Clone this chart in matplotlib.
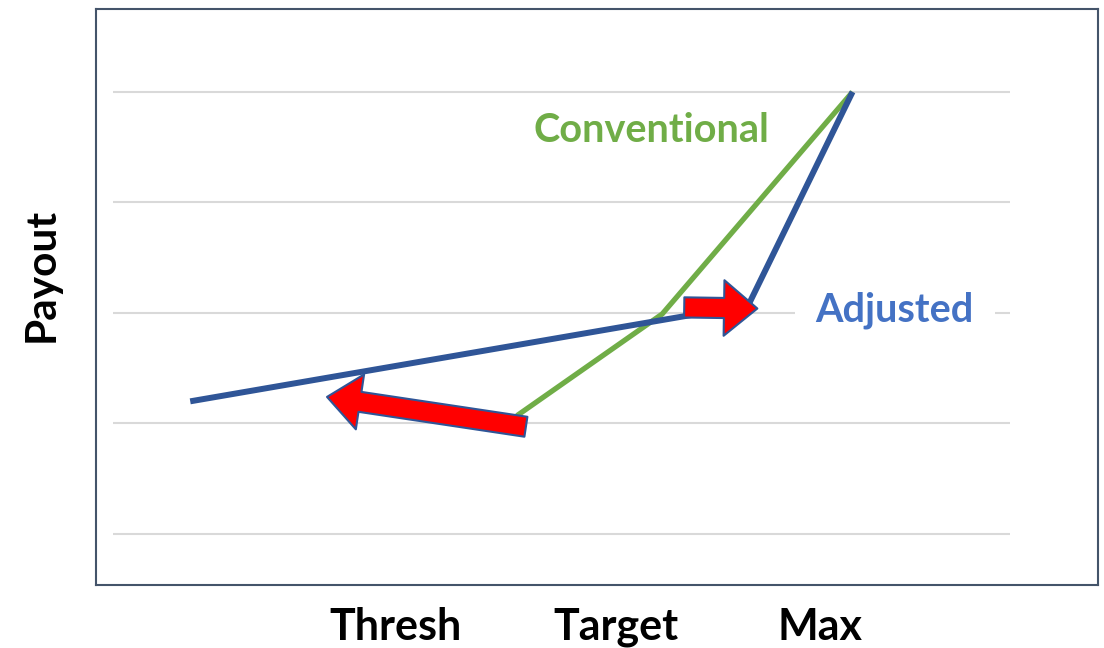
import matplotlib
matplotlib.use("Agg")
import matplotlib.pyplot as plt

# performance axis runs 0..100, payout levels sit on gridlines 1..5
grid_levels = [1, 2, 3, 4, 5]
tick_positions = [29.9, 51.9, 72.3]
tick_labels = ["Thresh", "Target", "Max"]

conventional_x = [42.0, 56.5, 75.5]
conventional_y = [2.07, 2.99, 5.0]

adjusted_x = [9.4, 65.1, 75.5]
adjusted_y = [2.20, 3.07, 5.0]

# shift arrows: (from_x, from_y, to_x, to_y)
shift_arrows = [
    (42.9, 1.97, 23.05, 2.24),
    (58.7, 3.05, 66.0, 3.04),
]

GREEN = "#70AD47"
BLUE = "#2F5597"
LABEL_BLUE = "#4472C4"
FRAME = "#44546A"

plt.rcParams["font.family"] = ["Lato", "DejaVu Sans"]

fig = plt.figure(figsize=(11.04, 6.48), dpi=100)
ax = fig.add_axes([0.087, 0.0972, 0.9076, 0.8889])
ax.set_xlim(0, 100)
ax.set_ylim(0.538, 5.75)

ax.hlines(grid_levels, 1.7, 91.2, color="#D9D9D9", linewidth=1.5, zorder=1)

ax.plot(conventional_x, conventional_y, color=GREEN, linewidth=3.8,
        solid_capstyle="butt", zorder=3)
ax.plot(adjusted_x, adjusted_y, color=BLUE, linewidth=4.3,
        solid_capstyle="butt", zorder=3)

for x0, y0, x1, y1 in shift_arrows:
    ax.annotate("", xy=(x1, y1), xytext=(x0, y0),
                arrowprops=dict(arrowstyle="simple,head_length=24,head_width=40,tail_width=14.5",
                                mutation_scale=1, shrinkA=0, shrinkB=0,
                                facecolor="#FF0000", edgecolor=BLUE, linewidth=1.5),
                zorder=4)

ax.text(55.4, 4.65, "Conventional", color=GREEN, fontsize=28.5, fontweight="bold",
        ha="center", va="center", zorder=5)
# white box breaks the gridline behind the label
ax.text(79.7, 3.02, "Adjusted", color=LABEL_BLUE, fontsize=28.5, fontweight="bold",
        ha="center", va="center", zorder=5,
        bbox=dict(facecolor="white", edgecolor="none", pad=15))

ax.set_xticks(tick_positions)
ax.set_xticklabels(tick_labels, fontsize=31, fontweight="bold")
ax.tick_params(axis="x", length=0, pad=16)
ax.set_yticks([])

fig.text(42 / 1104, 1 - 275 / 648, "Payout", fontsize=30.5, fontweight="bold",
         rotation=90, ha="center", va="center")

for spine in ax.spines.values():
    spine.set_color(FRAME)
    spine.set_linewidth(1.5)

fig.savefig("out.png", dpi=100)
